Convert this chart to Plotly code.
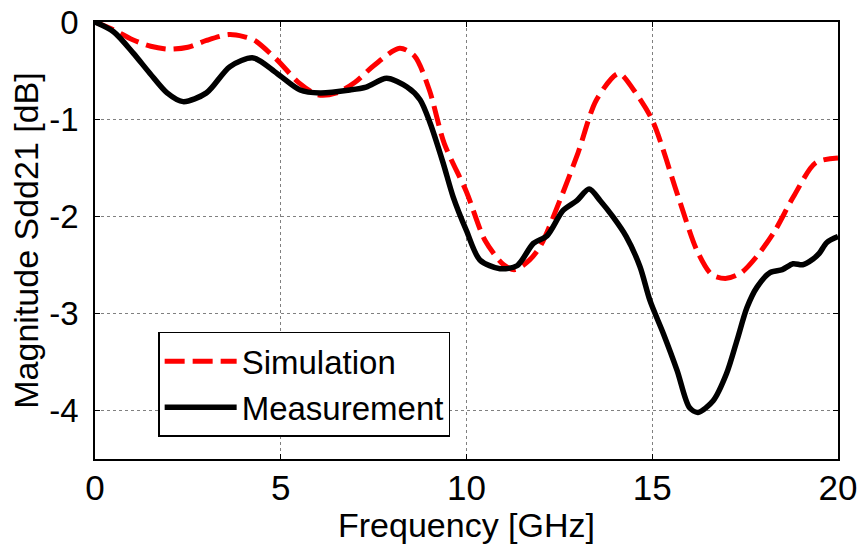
import plotly.graph_objects as go

sim_f = [0, 0.5, 1.0, 1.5, 2.0, 2.5, 3.0, 3.6, 4.0, 4.3, 4.9, 5.5, 6.0, 6.5, 7.0, 7.5, 8.2, 8.6, 9.0, 9.4, 10.0,
         10.5, 11.0, 11.3, 11.7, 12.0, 12.5, 13.0, 13.5, 14.1, 14.5, 15.0, 15.7, 16.2, 16.6, 17.0, 17.4,
         17.8, 18.3, 18.8, 19.4, 20.0]
sim_db = [0, -0.08, -0.18, -0.25, -0.28, -0.26, -0.19, -0.13, -0.15, -0.19, -0.39, -0.63, -0.75, -0.73, -0.62,
          -0.45, -0.27, -0.35, -0.7, -1.25, -1.75, -2.25, -2.5, -2.55, -2.45, -2.3, -1.85, -1.35, -0.8, -0.53,
          -0.7, -1.01, -1.8, -2.35, -2.6, -2.64, -2.58, -2.42, -2.15, -1.8, -1.45, -1.40]

meas_f = [0, 0.5, 1.03, 1.48, 1.94, 2.37, 3.0, 3.63, 4.26, 4.9, 5.52, 6.06, 6.86, 7.3, 7.85, 8.4, 8.75, 9.02,
          9.37, 9.64, 10.0, 10.36, 10.9, 11.36, 11.8, 12.17, 12.6, 12.97, 13.3, 13.6, 13.95, 14.3, 14.67,
          14.94, 15.3, 15.67, 16.0, 16.23, 16.64, 17.0, 17.28, 17.55, 17.82, 18.17, 18.5, 18.79, 19.05,
          19.33, 19.5, 19.7, 20.0]
meas_db = [0, -0.1, -0.32, -0.53, -0.73, -0.82, -0.73, -0.46, -0.37, -0.53, -0.70, -0.73, -0.70, -0.67,
           -0.58, -0.67, -0.80, -1.04, -1.45, -1.80, -2.15, -2.45, -2.54, -2.51, -2.28, -2.20, -1.94, -1.84,
           -1.72, -1.84, -2.01, -2.21, -2.52, -2.87, -3.21, -3.59, -3.97, -4.02, -3.90, -3.62, -3.28, -2.94,
           -2.73, -2.58, -2.55, -2.49, -2.50, -2.44, -2.38, -2.27, -2.21]

x_ticks = [0, 5, 10, 15, 20]
y_ticks = [0, -1, -2, -3, -4]
y_ticklabels = ["0", "-1", "-2", "-3", "-4"]

fig = go.Figure()
fig.add_trace(go.Scatter(x=sim_f, y=sim_db, mode="lines", name="Simulation",
                         line=dict(color="#ff0000", width=5, dash="20px,8px", shape="spline", smoothing=0.8)))
fig.add_trace(go.Scatter(x=meas_f, y=meas_db, mode="lines", name="Measurement",
                         line=dict(color="#000000", width=5.5, shape="spline", smoothing=0.8)))

fig.update_layout(
    width=861, height=544,
    margin=dict(l=95, r=23, t=22, b=85),
    paper_bgcolor="white", plot_bgcolor="white",
    font=dict(family="Liberation Sans, Arial, sans-serif", color="black", size=34),
    showlegend=True,
    legend=dict(x=0.085, y=0.291, xanchor="left", yanchor="top", bgcolor="white",
                bordercolor="black", borderwidth=1.5, font=dict(size=33),
                tracegroupgap=0, itemwidth=72),
)
fig.update_xaxes(range=[0, 20], tickvals=x_ticks, ticks="inside", ticklen=5, tickcolor="black",
                 showline=True, linecolor="black", linewidth=1.5, mirror="allticks", automargin=False,
                 showgrid=True, gridcolor="#808080", griddash="dot", gridwidth=1, zeroline=False,
                 ticklabelstandoff=-3,
                 tickfont=dict(size=35), title=dict(text="Frequency [GHz]", font=dict(size=34), standoff=2))
fig.update_yaxes(range=[-4.5, 0], tickvals=y_ticks, ticktext=y_ticklabels, ticks="inside", ticklen=5,
                 tickcolor="black", showline=True, linecolor="black", linewidth=1.5, mirror="allticks",
                 automargin=False, ticklabelstandoff=8,
                 showgrid=True, gridcolor="#808080", griddash="dot", gridwidth=1, zeroline=False,
                 tickfont=dict(size=33), title=dict(text="Magnitude Sdd21 [dB]", font=dict(size=34), standoff=0))

fig.write_html("out.html", config={"displayModeBar": False},
               post_script="document.body.style.margin='0';")
